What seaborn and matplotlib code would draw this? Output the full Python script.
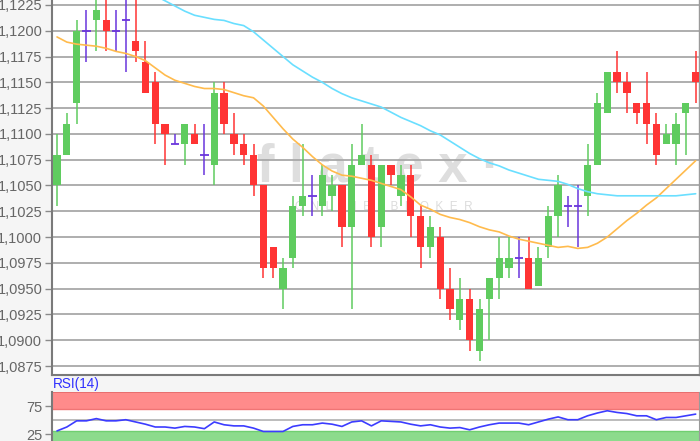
import numpy as np
import pandas as pd
import matplotlib
matplotlib.use("Agg")
import matplotlib.pyplot as plt
import seaborn as sns
from matplotlib.ticker import FuncFormatter

# daily candles (open / high / low / close)
opens = [1.1050, 1.1080, 1.1130, 1.1200, 1.1210, 1.1210, 1.1200, 1.1210, 1.1190, 1.1170,
         1.1150, 1.1110, 1.1090, 1.1090, 1.1100, 1.1080, 1.1070, 1.1140, 1.1100, 1.1090,
         1.1080, 1.1050, 1.0990, 1.0950, 1.0980, 1.1030, 1.1040, 1.1030, 1.1040, 1.1050,
         1.1010, 1.1070, 1.1070, 1.1010, 1.1070, 1.1040, 1.1060, 1.1020, 1.0990, 1.1000,
         1.0950, 1.0920, 1.0940, 1.0890, 1.0940, 1.0960, 1.0970, 1.0980, 1.0980, 1.0953,
         1.0990, 1.1020, 1.1030, 1.1030, 1.1040, 1.1070, 1.1120, 1.1160, 1.1150, 1.1130,
         1.1130, 1.1110, 1.1090, 1.1090, 1.1120, 1.1160]
highs = [1.1100, 1.1120, 1.1210, 1.1220, 1.1240, 1.1240, 1.1220, 1.1240, 1.1240, 1.1190,
         1.1160, 1.1110, 1.1100, 1.1110, 1.1110, 1.1110, 1.1150, 1.1150, 1.1120, 1.1100,
         1.1090, 1.1050, 1.0990, 1.0980, 1.1040, 1.1090, 1.1060, 1.1070, 1.1060, 1.1050,
         1.1090, 1.1110, 1.1080, 1.1070, 1.1070, 1.1070, 1.1070, 1.1030, 1.1020, 1.1010,
         1.0970, 1.0960, 1.0950, 1.0940, 1.0960, 1.1000, 1.1000, 1.1000, 1.1000, 1.0990,
         1.1030, 1.1060, 1.1040, 1.1050, 1.1090, 1.1140, 1.1160, 1.1180, 1.1160, 1.1130,
         1.1160, 1.1120, 1.1110, 1.1120, 1.1130, 1.1180]
lows = [1.1030, 1.1080, 1.1110, 1.1170, 1.1180, 1.1180, 1.1180, 1.1160, 1.1170, 1.1140,
        1.1090, 1.1070, 1.1090, 1.1070, 1.1090, 1.1060, 1.1050, 1.1100, 1.1080, 1.1070,
        1.1040, 1.0960, 1.0960, 1.0930, 1.0970, 1.1020, 1.1020, 1.1020, 1.1025, 1.0990,
        1.0930, 1.1070, 1.0990, 1.0990, 1.1050, 1.1030, 1.1000, 1.0970, 1.0980, 1.0940,
        1.0920, 1.0910, 1.0890, 1.0880, 1.0900, 1.0940, 1.0960, 1.0960, 1.0950, 1.0953,
        1.0980, 1.1000, 1.1010, 1.0990, 1.1020, 1.1070, 1.1120, 1.1140, 1.1120, 1.1110,
        1.1090, 1.1070, 1.1090, 1.1070, 1.1080, 1.1130]
closes = [1.1080, 1.1110, 1.1200, 1.1200, 1.1220, 1.1200, 1.1200, 1.1210, 1.1180, 1.1140,
          1.1110, 1.1100, 1.1090, 1.1110, 1.1090, 1.1080, 1.1140, 1.1110, 1.1090, 1.1080,
          1.1050, 1.0970, 1.0970, 1.0970, 1.1030, 1.1040, 1.1040, 1.1060, 1.1050, 1.1010,
          1.1070, 1.1080, 1.1000, 1.1070, 1.1060, 1.1060, 1.1020, 1.0990, 1.1010, 1.0950,
          1.0930, 1.0940, 1.0900, 1.0930, 1.0960, 1.0980, 1.0980, 1.0980, 1.0950, 1.0980,
          1.1020, 1.1050, 1.1030, 1.1030, 1.1070, 1.1130, 1.1160, 1.1150, 1.1140, 1.1120,
          1.1110, 1.1080, 1.1100, 1.1110, 1.1130, 1.1150]

# moving averages (orange = fast, cyan = slow, slow one enters the chart from the top)
ma_fast = [1.1194, 1.1189, 1.1187, 1.1186, 1.1185, 1.1183, 1.1180, 1.1178, 1.1175, 1.1171,
           1.1164, 1.1157, 1.1152, 1.1149, 1.1146, 1.1144, 1.1144, 1.1143, 1.1140, 1.1137,
           1.1135, 1.1127, 1.1116, 1.1105, 1.1095, 1.1087, 1.1078, 1.1070, 1.1064, 1.1060,
           1.1059, 1.1057, 1.1055, 1.1052, 1.1049, 1.1046, 1.1039, 1.1031, 1.1027, 1.1022,
           1.1019, 1.1017, 1.1014, 1.1010, 1.1007, 1.1005, 1.1001, 1.0998, 1.0996, 1.0994,
           1.0992, 1.0990, 1.0991, 1.0989, 1.0990, 1.0994, 1.1000, 1.1008, 1.1016, 1.1023,
           1.1031, 1.1038, 1.1047, 1.1056, 1.1065, 1.1074]
slow_start = 9
ma_slow = [1.1240, 1.1234, 1.1229, 1.1224, 1.1219, 1.1215, 1.1213, 1.1211, 1.1210, 1.1207,
           1.1205, 1.1199, 1.1191, 1.1183, 1.1175, 1.1167, 1.1161, 1.1155, 1.1150, 1.1144,
           1.1139, 1.1135, 1.1132, 1.1129, 1.1126, 1.1121, 1.1116, 1.1112, 1.1108, 1.1103,
           1.1099, 1.1093, 1.1087, 1.1081, 1.1076, 1.1072, 1.1069, 1.1065, 1.1062, 1.1059,
           1.1056, 1.1055, 1.1054, 1.1051, 1.1047, 1.1044, 1.1042, 1.1041, 1.1040, 1.1040,
           1.1040, 1.1040, 1.1040, 1.1040, 1.1040, 1.1041, 1.1042]

rsi = [31, 38, 49, 49, 53, 49, 49, 51, 47, 43, 38, 38, 36, 39, 38, 35, 47, 42, 40, 40,
       36, 30, 30, 30, 39, 42, 42, 45, 43, 39, 47, 49, 40, 49, 48, 47, 43, 40, 42, 38,
       36, 37, 33, 38, 42, 45, 45, 45, 42, 47, 52, 56, 51, 51, 58, 63, 67, 64, 62, 58,
       58, 51, 55, 55, 58, 61]

price_ticks = [1.0875, 1.0900, 1.0925, 1.0950, 1.0975, 1.1000, 1.1025, 1.1050,
               1.1075, 1.1100, 1.1125, 1.1150, 1.1175, 1.1200, 1.1225]
rsi_ticks = [25, 75]

sns.set_style("white")
plt.rcParams['font.family'] = ['Liberation Sans', 'DejaVu Sans']

GREEN = '#5fcc5f'
RED = '#ff3434'
DOJI = '#6a35dc'

df = pd.DataFrame({'o': opens, 'h': highs, 'l': lows, 'c': closes, 'fast': ma_fast, 'rsi': rsi})
df['i'] = np.arange(len(df))
df['col'] = np.where(df.c > df.o, GREEN, np.where(df.c < df.o, RED, DOJI))
slow = pd.DataFrame({'i': np.arange(slow_start, slow_start + len(ma_slow)), 'slow': ma_slow})

fig = plt.figure(figsize=(7, 4.41), dpi=100, facecolor='#f5f5f5')
ax = fig.add_axes([52/700, 1 - 375/441, 647/700, 375/441])
ax_rsi = fig.add_axes([52/700, 0, 647/700, 49/441])

# watermark
ax.text(0.504, 0.515, 'f l a t e x \u00b7', transform=ax.transAxes, ha='center', va='baseline',
        fontsize=38, fontweight='bold', color='#dedede', zorder=0.3)
ax.text(0.513, 0.44, 'O  N  L  I  N  E      B  R  O  K  E  R', transform=ax.transAxes,
        ha='center', va='baseline', fontsize=8.5, color='#dcdcdc', zorder=0.3)

# candles
ax.vlines(df.i, df.l, df.h, colors=df.col, lw=1.1, zorder=2)
body = df[df.c != df.o]
ax.bar(body.i, (body.c - body.o).abs(), bottom=body[['o', 'c']].min(axis=1),
       width=0.74, color=body.col, linewidth=0, zorder=3)
doji = df[df.c == df.o]
ax.hlines(doji.c, doji.i - 0.42, doji.i + 0.42, colors=DOJI, lw=1.3, zorder=3)

sns.lineplot(data=df, x='i', y='fast', ax=ax, color='#ffbb4d', lw=1.2, zorder=4,
             estimator=None, sort=False)
sns.lineplot(data=slow, x='i', y='slow', ax=ax, color='#6adfff', lw=1.2, zorder=4,
             estimator=None, sort=False)

ax.set_xlim(-0.51, 65.34)
ax.set_ylim(1.08663, 1.12298)
ax.set_yticks(price_ticks)
ax.yaxis.set_major_formatter(FuncFormatter(lambda v, p: f"{v:.4f}".replace('.', ',')))
ax.set_xticks([])
ax.set_xlabel('')
ax.set_ylabel('')
ax.set_axisbelow(True)
ax.yaxis.grid(True, color='#a8a8a8', lw=1.3)
ax.tick_params(axis='y', left=True, length=5, width=1, color='#8a8a8a',
               labelsize=10.5, labelcolor='#666666', pad=2)
ax.set_facecolor('white')
for s in ['left', 'bottom']:
    ax.spines[s].set_color('#7a7a7a')
    ax.spines[s].set_linewidth(1.5)
ax.spines['right'].set_color('#9a9a9a')
ax.spines['right'].set_linewidth(1.0)
ax.spines['top'].set_visible(False)

# RSI panel
ax_rsi.axhspan(70, 100.5, color='#ff8b8b', lw=0, zorder=0)
ax_rsi.axhline(100, color='#e46a6a', lw=1.2, zorder=1)
ax_rsi.axhline(70, color='#f07575', lw=1.0, zorder=1)
ax_rsi.axhspan(0, 30, color='#8cdb8c', lw=0, zorder=0)
ax_rsi.axhline(30, color='#70cf70', lw=1.0, zorder=1)
ax_rsi.axhline(50, color='#b0b0b0', lw=1.2, zorder=1)
sns.lineplot(data=df, x='i', y='rsi', ax=ax_rsi, color='#3c3cff', lw=1.2, zorder=3,
             estimator=None, sort=False)
ax_rsi.set_xlim(-0.51, 65.34)
ax_rsi.set_ylim(13, 100.5)
ax_rsi.set_yticks(rsi_ticks)
ax_rsi.set_xticks([])
ax_rsi.set_xlabel('')
ax_rsi.set_ylabel('')
ax_rsi.set_facecolor('white')
ax_rsi.tick_params(axis='y', left=True, length=5, width=1, color='#8a8a8a',
                   labelsize=10.5, labelcolor='#666666', pad=2)
ax_rsi.spines['left'].set_color('#7a7a7a')
ax_rsi.spines['left'].set_linewidth(1.5)
ax_rsi.spines['right'].set_color('#9a9a9a')
ax_rsi.spines['top'].set_visible(False)
ax_rsi.spines['bottom'].set_visible(False)

fig.text(53/700, 1 - 384/441, 'RSI(14)', color='#3030ff', fontsize=9.8, va='center', ha='left')

fig.savefig('out.png', dpi=100, facecolor=fig.get_facecolor())
